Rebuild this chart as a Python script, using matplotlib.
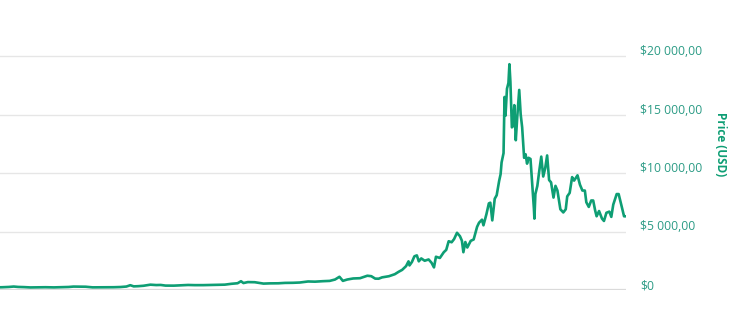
import matplotlib
matplotlib.use("Agg")
import matplotlib.pyplot as plt
import matplotlib.ticker as mticker
import matplotlib.transforms as mtransforms
import pandas as pd

# =========================================================
# Price data (USD)
# =========================================================
dates = [
    "2015-02-01", "2015-02-15", "2015-03-01", "2015-03-11", "2015-03-20",
    "2015-04-01", "2015-04-14", "2015-05-01", "2015-05-15", "2015-06-01",
    "2015-06-15", "2015-07-01", "2015-07-11", "2015-07-25", "2015-08-05",
    "2015-08-19", "2015-09-01", "2015-09-15", "2015-10-01", "2015-10-15",
    "2015-10-27", "2015-11-04", "2015-11-11", "2015-11-20", "2015-12-01",
    "2015-12-15", "2015-12-27", "2016-01-05", "2016-01-15", "2016-02-01",
    "2016-02-15", "2016-03-01", "2016-03-15", "2016-04-01", "2016-04-15",
    "2016-05-01", "2016-05-15", "2016-05-28", "2016-06-10", "2016-06-17",
    "2016-06-22", "2016-07-01", "2016-07-15", "2016-08-02", "2016-08-15",
    "2016-09-01", "2016-09-15", "2016-10-01", "2016-10-15", "2016-11-01",
    "2016-11-15", "2016-12-01", "2016-12-15", "2016-12-26", "2017-01-04",
    "2017-01-11", "2017-01-20", "2017-02-01", "2017-02-15", "2017-03-02",
    "2017-03-10", "2017-03-18", "2017-03-25", "2017-04-01", "2017-04-15",
    "2017-04-27", "2017-05-05", "2017-05-12", "2017-05-20", "2017-05-25",
    "2017-05-27", "2017-06-01", "2017-06-06", "2017-06-11", "2017-06-15",
    "2017-06-20", "2017-06-27", "2017-07-05", "2017-07-11", "2017-07-16",
    "2017-07-20", "2017-07-28", "2017-08-05", "2017-08-10", "2017-08-15",
    "2017-08-21", "2017-08-26", "2017-09-01", "2017-09-07", "2017-09-11",
    "2017-09-14", "2017-09-18", "2017-09-22", "2017-09-29", "2017-10-05",
    "2017-10-12", "2017-10-16", "2017-10-22", "2017-10-25", "2017-10-31",
    "2017-11-05", "2017-11-08", "2017-11-12", "2017-11-17", "2017-11-21",
    "2017-11-26", "2017-11-29", "2017-12-01", "2017-12-05", "2017-12-07",
    "2017-12-09", "2017-12-12", "2017-12-15", "2017-12-17", "2017-12-19",
    "2017-12-22", "2017-12-24", "2017-12-27", "2017-12-30", "2018-01-02",
    "2018-01-06", "2018-01-09", "2018-01-12", "2018-01-16", "2018-01-19",
    "2018-01-22", "2018-01-25", "2018-01-29", "2018-02-02", "2018-02-05",
    "2018-02-06", "2018-02-08", "2018-02-12", "2018-02-16", "2018-02-20",
    "2018-02-24", "2018-02-28", "2018-03-04", "2018-03-08", "2018-03-12",
    "2018-03-17", "2018-03-21", "2018-03-25", "2018-03-31", "2018-04-06",
    "2018-04-11", "2018-04-14", "2018-04-19", "2018-04-24", "2018-04-28",
    "2018-05-05", "2018-05-10", "2018-05-15", "2018-05-20", "2018-05-23",
    "2018-05-28", "2018-06-02", "2018-06-06", "2018-06-10", "2018-06-13",
    "2018-06-18", "2018-06-24", "2018-06-28", "2018-07-03", "2018-07-09",
    "2018-07-13", "2018-07-17", "2018-07-24", "2018-07-28", "2018-07-31",
    "2018-08-04", "2018-08-08", "2018-08-11",
]
prices = [
    225, 235, 260, 295, 262,
    247, 219, 232, 237, 223,
    237, 258, 292, 289, 280,
    226, 228, 230, 237, 255,
    295, 410, 310, 326, 362,
    455, 422, 432, 376, 372,
    400, 430, 415, 416, 429,
    451, 457, 528, 577, 750,
    595, 676, 665, 547, 567,
    573, 607, 615, 639, 729,
    712, 753, 778, 896, 1130,
    780, 897, 985, 1008, 1220,
    1180, 972, 965, 1080, 1178,
    1350, 1560, 1720, 2040, 2450,
    2100, 2400, 2880, 2960, 2450,
    2700, 2500, 2610, 2330, 1930,
    2840, 2740, 3230, 3430, 4170,
    4080, 4350, 4890, 4600, 4210,
    3230, 4100, 3630, 4200, 4320,
    5400, 5750, 6010, 5530, 6470,
    7400, 7460, 5950, 7800, 8100,
    9320, 9900, 10900, 11700, 16500,
    14900, 17200, 17700, 19300, 17800,
    13900, 14000, 15800, 12800, 14800,
    17100, 15000, 13900, 11300, 11600,
    10800, 11300, 11200, 8800, 6950,
    6100, 8200, 8900, 10200, 11400,
    9700, 10400, 11500, 9400, 9200,
    7900, 8900, 8500, 6900, 6630,
    6900, 8000, 8300, 9650, 9350,
    9800, 9000, 8500, 8500, 7500,
    7100, 7650, 7650, 6800, 6300,
    6750, 6100, 5900, 6600, 6700,
    6250, 7300, 8200, 8200, 7700,
    7000, 6300, 6300,
]

y_ticks = [0, 5000, 10000, 15000, 20000]
y_tick_labels = ["$0", "$5 000,00", "$10 000,00", "$15 000,00", "$20 000,00"]

LINE_COLOR = "#0e9e74"
LABEL_COLOR = "#2b9b85"

plt.rcParams["font.family"] = ["Open Sans", "DejaVu Sans"]

fig = plt.figure(figsize=(7.34, 3.09), dpi=100)
ax = fig.add_axes([0.0, 19 / 309, 626 / 734, 263.25 / 309])

x = pd.to_datetime(dates)
ax.plot(x, prices, color=LINE_COLOR, linewidth=1.9, solid_joinstyle="round")

ax.set_xlim(pd.Timestamp("2015-02-11"), pd.Timestamp("2018-08-12"))
ax.set_ylim(0, 22500)

# right-hand price axis
ax.yaxis.tick_right()
ax.yaxis.set_major_locator(mticker.FixedLocator(y_ticks))
ax.set_yticklabels(y_tick_labels)
ax.tick_params(axis="y", length=0, pad=10, labelsize=8.7, labelcolor=LABEL_COLOR)
ax.tick_params(axis="x", length=0, labelbottom=False)

# labels sit a little above their grid lines
shift = mtransforms.ScaledTranslation(0, 6 / 100, fig.dpi_scale_trans)
for lab in ax.get_yticklabels():
    lab.set_transform(lab.get_transform() + shift)

ax.yaxis.set_label_position("right")
ax.set_ylabel("Price (USD)", rotation=270, fontsize=8.5, fontweight="bold",
              color=LINE_COLOR)
ax.yaxis.set_label_coords(1.161, 0.555)

ax.grid(axis="y", color="#e6e6e6", linewidth=1)
ax.axhline(0, color="#d8d8d8", linewidth=1.6, zorder=1)
for s in ax.spines.values():
    s.set_visible(False)

fig.savefig("out.png", dpi=100)
